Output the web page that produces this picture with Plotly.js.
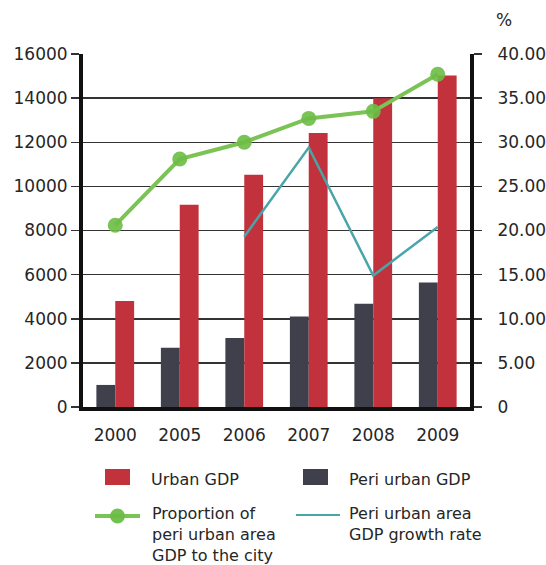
<!DOCTYPE html>
<html>
<head>
<meta charset="utf-8">
<script src="https://cdn.plot.ly/plotly-3.0.1.min.js"></script>
<style>html,body{margin:0;padding:0;background:#fff}</style>
</head>
<body>
<div id="chart" style="width:546px;height:565px"></div>
<script>
const years = ['2000','2005','2006','2007','2008','2009'];
const urbanGDP = [4800, 9170, 10530, 12420, 14000, 15030];
const periUrbanGDP = [1000, 2680, 3130, 4100, 4680, 5640];
const proportion = [20.6, 28.1, 30.0, 32.7, 33.5, 37.7];
const growthRate = [null, null, 19.3, 29.4, 14.9, 20.4];
const leftTicks = [0, 2000, 4000, 6000, 8000, 10000, 12000, 14000, 16000];
const leftTickText = ['0','2000','4000','6000','8000','10000','12000','14000','16000'];
const rightTicks = [0, 5, 10, 15, 20, 25, 30, 35, 40];
const rightTickText = ['0','5.00','10.00','15.00','20.00','25.00','30.00','35.00','40.00'];
const legendNames = ['Urban GDP', 'Peri urban GDP', 'Proportion of<br>peri urban area<br>GDP to the city', 'Peri urban area<br>GDP growth rate'];

const COLORS = {urban:'#c1323d', peri:'#403f4c', green:'#7cc356', greenMarker:'#6bbd45', teal:'#4aa5a8'};
const FONT = '"DejaVu Sans", sans-serif';
const TXT = '#262626';

// plot area in pixels
const W = 546, H = 565, L = 83, R = 76, T = 54, B = 158;
const PW = W - L - R, PH = H - T - B;
const px = v => (v - L) / PW;
const py = v => (H - B - v) / PH;

const traces = [
  {type:'bar', name:legendNames[1], x:years, y:periUrbanGDP, marker:{color:COLORS.peri}},
  {type:'bar', name:legendNames[0], x:years, y:urbanGDP, marker:{color:COLORS.urban}},
  {type:'scatter', mode:'lines+markers', name:legendNames[2], x:years, y:proportion, yaxis:'y2',
   line:{color:COLORS.green, width:4}, marker:{color:COLORS.greenMarker, size:15, opacity:0.9}},
  {type:'scatter', mode:'lines', name:legendNames[3], x:years, y:growthRate, yaxis:'y2',
   line:{color:COLORS.teal, width:2.5}}
];

const shapes = [
  {type:'rect', xref:'paper', yref:'paper', x0:px(105), x1:px(130), y0:py(469), y1:py(485), fillcolor:COLORS.urban, line:{width:0}},
  {type:'rect', xref:'paper', yref:'paper', x0:px(303), x1:px(328), y0:py(469), y1:py(485), fillcolor:COLORS.peri, line:{width:0}},
  {type:'line', xref:'paper', yref:'paper', x0:px(95), x1:px(140), y0:py(516), y1:py(516), line:{color:COLORS.green, width:4}},
  {type:'circle', xref:'paper', yref:'paper', x0:px(110), x1:px(125), y0:py(523.5), y1:py(508.5), fillcolor:COLORS.greenMarker, opacity:0.95, line:{width:0}},
  {type:'line', xref:'paper', yref:'paper', x0:px(296), x1:px(340), y0:py(515), y1:py(515), line:{color:COLORS.teal, width:2}}
];

const ann = (text, x, y) => ({text, xref:'paper', yref:'paper', x:px(x), y:py(y), xanchor:'left', yanchor:'top',
  align:'left', showarrow:false, borderpad:0, font:{family:FONT, size:16, color:TXT}});

const layout = {
  width:W, height:H,
  margin:{l:L, r:R, t:T, b:B},
  paper_bgcolor:'#fff', plot_bgcolor:'#fff',
  font:{family:FONT, size:17, color:TXT},
  barmode:'group', bargap:0.415, bargroupgap:0,
  showlegend:false,
  xaxis:{type:'category', showline:true, linecolor:'#111', linewidth:4, ticks:'outside', ticklen:10,
         tickcolor:'rgba(0,0,0,0)', tickfont:{family:FONT, size:17, color:TXT}, showgrid:false},
  yaxis:{range:[0,16000], tickvals:leftTicks, ticktext:leftTickText, showline:true, linecolor:'#111', linewidth:4,
         ticks:'outside', ticklen:8, tickcolor:'#333', tickwidth:1.5, showgrid:true, gridcolor:'#333', gridwidth:1.5,
         zeroline:false, tickfont:{family:FONT, size:17, color:TXT}},
  yaxis2:{range:[0,40], overlaying:'y', side:'right', tickvals:rightTicks, ticktext:rightTickText, showline:true,
          linecolor:'#111', linewidth:4, ticks:'outside', ticklen:8, tickcolor:'#333', tickwidth:1.5, showgrid:false,
          zeroline:false, ticklabelstandoff:12, tickfont:{family:FONT, size:17, color:TXT}},
  shapes,
  annotations:[
    {text:'%', xref:'paper', yref:'paper', x:px(494), y:py(20), xanchor:'left', yanchor:'middle', showarrow:false,
     font:{family:FONT, size:17, color:TXT}},
    ann(legendNames[0], 150, 469),
    ann(legendNames[1], 348, 469),
    ann(legendNames[2], 151, 503),
    ann(legendNames[3], 348, 503)
  ]
};
Plotly.newPlot('chart', traces, layout, {displayModeBar:false, staticPlot:true});
</script>
</body>
</html>
